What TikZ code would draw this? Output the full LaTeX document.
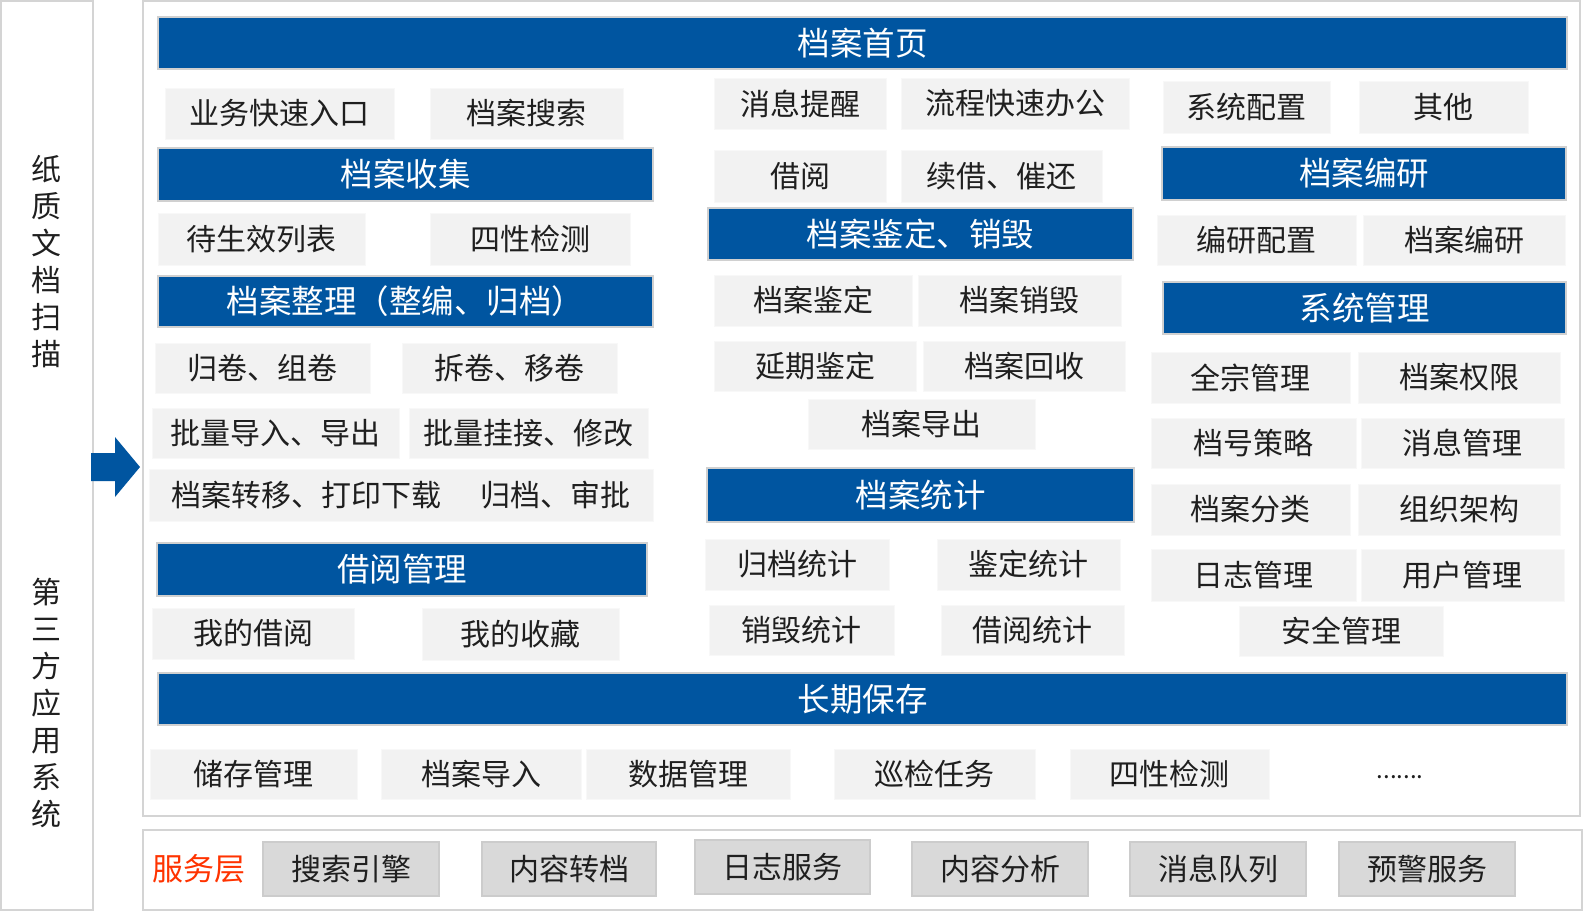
\documentclass[tikz,border=0pt]{standalone}
\usepackage{fontspec}
\setmainfont{Noto Sans CJK SC}
\usepackage{tikz}
\usetikzlibrary{positioning}
\usepackage{xcolor}
\definecolor{hdrblue}{RGB}{0, 85, 160}
\definecolor{hdrline}{RGB}{208, 208, 208}
\definecolor{itemgray}{RGB}{242, 242, 242}
\definecolor{itemline}{RGB}{248, 248, 248}
\definecolor{svcgray}{RGB}{217, 217, 217}
\definecolor{svcline}{RGB}{204, 204, 204}
\definecolor{panelline}{RGB}{212, 212, 212}
\definecolor{svcred}{RGB}{255, 51, 0}

\begin{document}
\begin{tikzpicture}[
    x=1pt, y=-1pt,
    sz/.style 2 args={minimum width=#1pt, minimum height=#2pt},
    hdr/.style={rectangle, draw=hdrline, line width=1.5pt, fill=hdrblue, text=white, inner sep=0pt, font=\fontsize{32.5}{34}\selectfont},
    item/.style={rectangle, draw=itemline, line width=0.8pt, fill=itemgray, text=black!88, inner sep=0pt, font=\fontsize{30}{32}\selectfont},
    svc/.style={rectangle, draw=svcline, line width=1.5pt, fill=svcgray, text=black!88, inner sep=0pt, font=\fontsize{30}{32}\selectfont},
    panel/.style={draw=panelline, line width=2pt},
    side/.style={align=center, text=black!88, font=\fontsize{30}{37}\selectfont}
]
    \useasboundingbox (0,0) rectangle (1583,912);
    \fill[white] (0,0) rectangle (1583,912);

    % Panels
    \draw[panel] (1,1) rectangle (93,910);
    \draw[panel] (143,1) rectangle (1580,816);
    \draw[panel] (143,830) rectangle (1582,910);
    \node[side] (paper) at (46,262) {纸\\质\\文\\档\\扫\\描};
    \node[side] (third) at (46,703) {第\\三\\方\\应\\用\\系\\统};
    \fill[hdrblue] (91,453) -- (115,453) -- (115,437) -- (140,467) -- (115,497) -- (115,481) -- (91,481) -- cycle;

    % Headers
    \node[hdr, sz={1409}{52}] (home) at (862.5,43) {档案首页};
    \node[hdr, sz={495}{53}] (collect) at (405.5,174.5) {档案收集};
    \node[hdr, sz={495}{51}] (arrange) at (405.5,301.5) {档案整理（整编、归档）};
    \node[hdr, sz={490}{53}] (borrow) at (402,569.5) {借阅管理};
    \node[hdr, sz={425}{52}] (appraise) at (920.5,234) {档案鉴定、销毁};
    \node[hdr, sz={427}{54}] (stats) at (920.5,495) {档案统计};
    \node[hdr, sz={404}{53}] (compile) at (1364,173.5) {档案编研};
    \node[hdr, sz={403}{52}] (sysmgr) at (1364.5,308) {系统管理};
    \node[hdr, sz={1409}{52}] (keep) at (862.5,699) {长期保存};

    % Home items
    \node[item, sz={229}{51}] (quick) at (279.5,113.5) {业务快速入口};
    \node[item, sz={193}{51}] (search) at (526.5,113.5) {档案搜索};
    \node[item, sz={172}{51}] (remind) at (800,103.5) {消息提醒};
    \node[item, sz={228}{51}] (flow) at (1015,103.5) {流程快速办公};
    \node[item, sz={167}{52}] (syscfg) at (1246.5,107) {系统配置};
    \node[item, sz={169}{52}] (other) at (1443.5,107) {其他};

    % Collection and arrangement
    \node[item, sz={207}{52}] (pending) at (261.5,239) {待生效列表};
    \node[item, sz={200}{52}] (check) at (530,239) {四性检测};
    \node[item, sz={215}{50}] (group) at (262.5,368) {归卷、组卷};
    \node[item, sz={215}{50}] (split) at (509.5,368) {拆卷、移卷};
    \node[item, sz={247}{50}] (import) at (275.5,433) {批量导入、导出};
    \node[item, sz={239}{50}] (attach) at (528.5,433) {批量挂接、修改};
    \node[item, sz={504}{52}] (transfer) at (401,495) {档案转移、打印下载\hspace{40pt}归档、审批};

    % Borrowing
    \node[item, sz={202}{51}] (myborrow) at (253,633.5) {我的借阅};
    \node[item, sz={197}{52}] (myfav) at (520.5,634) {我的收藏};
    \node[item, sz={172}{52}] (lend) at (800,176) {借阅};
    \node[item, sz={201}{52}] (renew) at (1001.5,176) {续借、催还};

    % Appraisal
    \node[item, sz={198}{51}] (judge) at (813,300.5) {档案鉴定};
    \node[item, sz={203}{51}] (destroy) at (1019.5,300.5) {档案销毁};
    \node[item, sz={202}{50}] (delay) at (815,366) {延期鉴定};
    \node[item, sz={202}{50}] (recycle) at (1024,366) {档案回收};
    \node[item, sz={227}{50}] (export) at (921.5,424) {档案导出};

    % Statistics
    \node[item, sz={184}{51}] (stfile) at (797,564.5) {归档统计};
    \node[item, sz={183}{51}] (stjudge) at (1028.5,564.5) {鉴定统计};
    \node[item, sz={185}{50}] (stdestroy) at (801.5,630) {销毁统计};
    \node[item, sz={183}{50}] (stborrow) at (1032.5,630) {借阅统计};

    % Compilation and system
    \node[item, sz={199}{50}] (cmpcfg) at (1256.5,240) {编研配置};
    \node[item, sz={202}{50}] (cmpfile) at (1464,240) {档案编研};
    \node[item, sz={199}{51}] (fonds) at (1250.5,377.5) {全宗管理};
    \node[item, sz={202}{51}] (perm) at (1459,377.5) {档案权限};
    \node[item, sz={205}{50}] (numpol) at (1253.5,443) {档号策略};
    \node[item, sz={203}{50}] (msgmgr) at (1462.5,443) {消息管理};
    \node[item, sz={199}{51}] (classify) at (1250.5,509.5) {档案分类};
    \node[item, sz={202}{51}] (org) at (1459,509.5) {组织架构};
    \node[item, sz={205}{52}] (logmgr) at (1253.5,575) {日志管理};
    \node[item, sz={203}{52}] (user) at (1462.5,575) {用户管理};
    \node[item, sz={204}{50}] (secure) at (1341,631) {安全管理};

    % Long-term preservation
    \node[item, sz={207}{50}] (storage) at (253.5,774) {储存管理};
    \node[item, sz={200}{50}] (fileimp) at (481,774) {档案导入};
    \node[item, sz={204}{50}] (data) at (688,774) {数据管理};
    \node[item, sz={201}{50}] (patrol) at (934.5,774) {巡检任务};
    \node[item, sz={199}{50}] (fourchk) at (1169.5,774) {四性检测};
    \node[text=black!88, font=\fontsize{24}{26}\selectfont] (more) at (1400,777) {.......};

    % Service layer
    \node[text=svcred, font=\fontsize{31}{33}\selectfont] (svclabel) at (199,869) {服务层};
    \node[svc, sz={176}{54}] (engine) at (351,869) {搜索引擎};
    \node[svc, sz={174}{54}] (convert) at (569,869) {内容转档};
    \node[svc, sz={175}{54}] (logsvc) at (782.5,867) {日志服务};
    \node[svc, sz={176}{54}] (analyse) at (1000,869) {内容分析};
    \node[svc, sz={176}{54}] (queue) at (1218,869) {消息队列};
    \node[svc, sz={176}{54}] (warn) at (1427,869) {预警服务};

\end{tikzpicture}
\end{document}
